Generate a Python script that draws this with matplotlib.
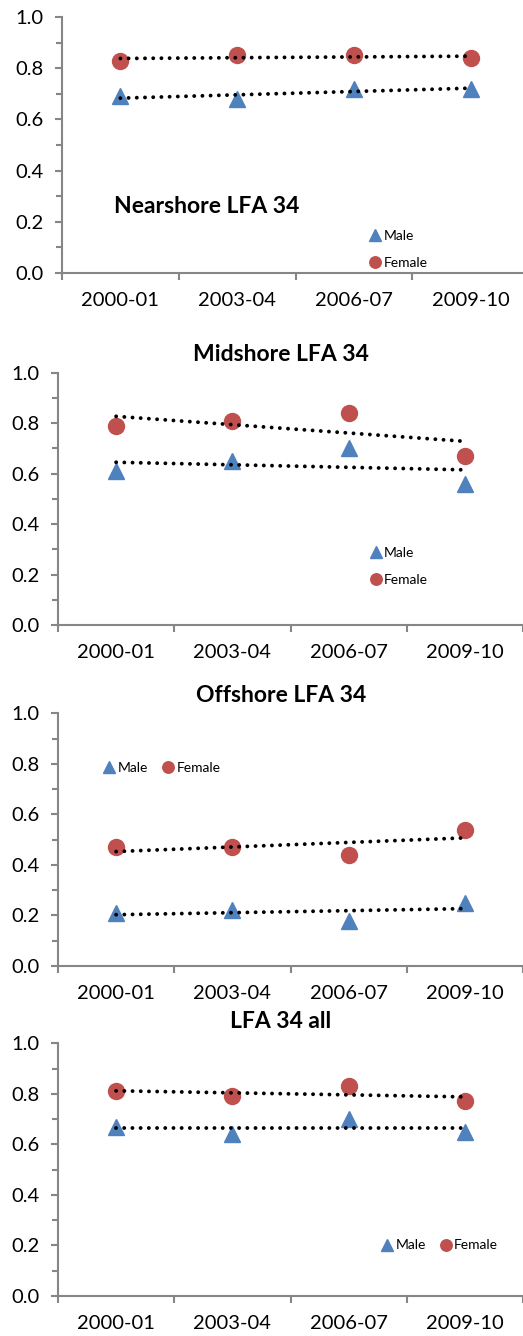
import matplotlib
matplotlib.use("Agg")
import matplotlib.pyplot as plt
import numpy as np
from matplotlib.ticker import MultipleLocator, FormatStrFormatter

plt.rcParams['font.family'] = ['Lato', 'DejaVu Sans']

seasons = ["2000-01", "2003-04", "2006-07", "2009-10"]

near_male = [0.69, 0.68, 0.72, 0.72]
near_female = [0.83, 0.85, 0.85, 0.84]
mid_male = [0.61, 0.65, 0.70, 0.56]
mid_female = [0.79, 0.81, 0.84, 0.67]
off_male = [0.21, 0.22, 0.18, 0.25]
off_female = [0.47, 0.47, 0.44, 0.54]
all_male = [0.67, 0.64, 0.70, 0.65]
all_female = [0.81, 0.79, 0.83, 0.77]

titles = ["Nearshore LFA 34", "Midshore LFA 34", "Offshore LFA 34", "LFA 34 all"]

W, H = 523, 1336
fig = plt.figure(figsize=(W / 100, H / 100), dpi=100)

BLUE = "#4F81BD"
RED = "#C0504D"
AXC = "#868686"

# axes rectangles in pixels: left, top(1.0), bottom(0.0), right
rects = [
    (62, 17, 273, 529),
    (58, 372.7, 625, 523),
    (58, 713.3, 966, 523),
    (58, 1043.3, 1296, 523),
]
data = [
    (near_male, near_female),
    (mid_male, mid_female),
    (off_male, off_female),
    (all_male, all_female),
]
# legend settings: (ncol, bbox x, bbox y)
legends = [
    (1, 0.657, 0.092),
    (1, 0.670, 0.232),
    (2, 0.097, 0.785),
    (2, 0.694, 0.200),
]

x = np.arange(len(seasons))
for i, ((l, t, b, r), (male, female), (ncol, lx, ly)) in enumerate(zip(rects, data, legends)):
    ax = fig.add_axes([l / W, (H - b) / H, (r - l) / W, (b - t) / H])
    ax.set_xlim(-0.5, 3.5)
    ax.set_ylim(0, 1.0)
    for s in ("top", "right"):
        ax.spines[s].set_visible(False)
    for s in ("left", "bottom"):
        ax.spines[s].set_color(AXC)
        ax.spines[s].set_linewidth(1.5)
    ax.yaxis.set_major_locator(MultipleLocator(0.2))
    ax.yaxis.set_minor_locator(MultipleLocator(0.1))
    ax.yaxis.set_major_formatter(FormatStrFormatter("%.1f"))
    ax.set_xticks(x)
    ax.set_xticklabels(seasons)
    ax.set_xticks(np.arange(-0.5, 4.0, 1.0), minor=True)
    ax.tick_params(axis="x", which="major", length=0, pad=13.5, labelsize=14.5)
    ax.tick_params(axis="x", which="minor", length=5, width=1.5, color=AXC, direction="out")
    ax.tick_params(axis="y", which="major", length=5, width=1.5, color=AXC, pad=8, labelsize=14.5)
    ax.tick_params(axis="y", which="minor", length=4, width=1.5, color=AXC)

    hm, = ax.plot(x, male, linestyle="none", marker="^", markersize=12,
                  color=BLUE, label="Male", zorder=3)
    hf, = ax.plot(x, female, linestyle="none", marker="o", markersize=11.5,
                  color=RED, label="Female", zorder=3)
    for ser in (male, female):
        k, c0 = np.polyfit(x, ser, 1)
        ax.plot([x[0], x[-1]], [c0 + k * x[0], c0 + k * x[-1]], color="black",
                linewidth=2.8, linestyle=(0, (0.01, 2.1)), dash_capstyle="round", zorder=4)

    ax.legend(handles=[hm, hf], loc="center left", bbox_to_anchor=(lx, ly),
              ncol=ncol, frameon=False, fontsize=10, markerscale=0.72,
              handlelength=0.9, handletextpad=0.15, columnspacing=1.0,
              labelspacing=1.1, borderpad=0, borderaxespad=0)

    if i == 0:
        ax.text(-0.056, 0.26, titles[0], fontsize=16.5, fontweight="bold",
                ha="left", va="center", transform=ax.transData)

title_y = [None, 354, 695, 1022]
for i in range(1, 4):
    fig.text(281 / W, 1 - title_y[i] / H, titles[i], fontsize=16.5, fontweight="bold",
             ha="center", va="center")

fig.savefig("out.png", dpi=100)
